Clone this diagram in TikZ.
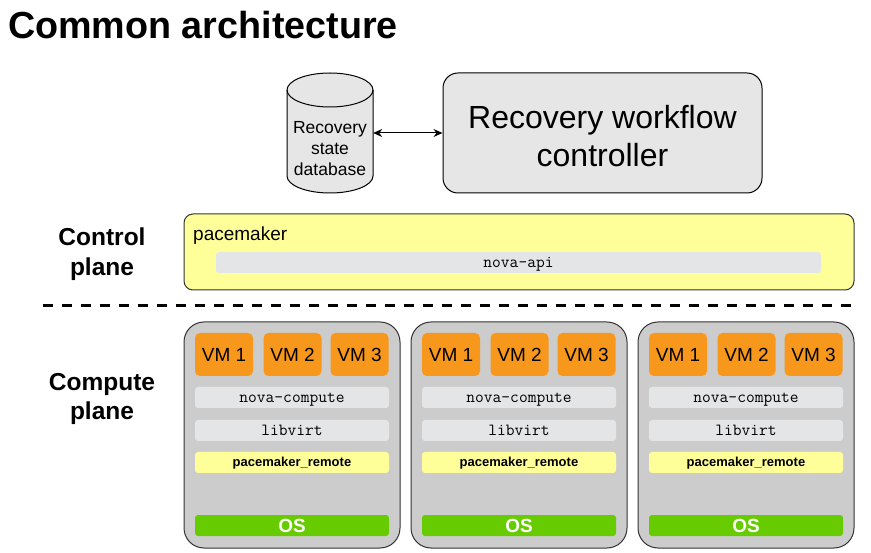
\documentclass[tikz,border=0pt]{standalone}
\usepackage{fontspec}
\setmainfont{Liberation Sans}
\usetikzlibrary{arrows.meta}
\definecolor{cgray}{HTML}{CCCCCC}
\definecolor{lgray}{HTML}{E6E6E6}
\definecolor{bargray}{HTML}{E4E5E6}
\definecolor{pyellow}{HTML}{FFFF99}
\definecolor{vmorange}{HTML}{F7981D}
\definecolor{osgreen}{HTML}{66CC00}
\definecolor{edge}{HTML}{333333}
\tikzset{
  computebox/.style={draw=edge, line width=1pt, fill=cgray, rounded corners=20pt, minimum width=216pt, minimum height=226pt, inner sep=0pt},
  vmbox/.style={fill=vmorange, rounded corners=5pt, minimum width=58pt, minimum height=43pt, inner sep=0pt, font=\fontsize{19}{22}\selectfont},
  barbox/.style={fill=bargray, rounded corners=3pt, minimum width=194pt, minimum height=21pt, inner sep=0pt, text height=10pt, text depth=0.5pt, font=\ttfamily\fontsize{17}{18}\selectfont},
  pmrbox/.style={fill=pyellow, rounded corners=3pt, minimum width=194pt, minimum height=21pt, inner sep=0pt, text height=9.5pt, text depth=1pt, font=\bfseries\fontsize{13}{16}\selectfont},
  osbox/.style={fill=osgreen, rounded corners=3pt, minimum width=194pt, minimum height=21pt, inner sep=0pt, text=white, font=\bfseries\fontsize{19}{22}\selectfont},
  planelabel/.style={align=center, font=\bfseries\fontsize{24.5}{29.5}\selectfont},
}
\begin{document}
\begin{tikzpicture}[x=1pt,y=-1pt]
\useasboundingbox (0,0) rectangle (871,553);
% title
\node[anchor=base west, inner sep=0pt, font=\bfseries\fontsize{37.7}{44}\selectfont] (title) at (8,38.5) {Common architecture};
% database cylinder
\node[minimum width=86pt, minimum height=120pt, inner sep=0pt] (db) at (330,133) {};
\draw[draw=black, line width=1pt, fill=lgray]
  (287,90) -- (287,176) arc[start angle=180, end angle=0, x radius=43, y radius=17] -- (373,90)
  arc[start angle=0, end angle=-180, x radius=43, y radius=17] -- cycle;
\draw[line width=1pt] (287,90) arc[start angle=180, end angle=0, x radius=43, y radius=17];
\node[align=center, font=\fontsize{17.5}{21}\selectfont, inner sep=0pt] (dbtext) at (330,149) {Recovery\\state\\database};
% controller
\node[draw=black, line width=1pt, fill=lgray, rounded corners=15pt, minimum width=319pt, minimum height=120pt, inner sep=0pt] (ctrl) at (602.5,133) {};
\node[align=center, inner sep=0pt, font=\fontsize{32}{38}\selectfont] (ctrltext) at (602.5,136) {Recovery workflow\\controller};
\draw[line width=1pt, {Stealth[length=9pt,width=8pt]}-{Stealth[length=9pt,width=8pt]}] (db.east) -- (ctrl.west);
% control plane
\node[planelabel] (cpl) at (102,254) {Control\\plane};
\node[draw=edge, line width=1pt, fill=pyellow, rounded corners=9pt, minimum width=670pt, minimum height=76pt, inner sep=0pt] (pm) at (519,252) {};
\node[anchor=base west, inner sep=0pt, font=\fontsize{19}{22}\selectfont] (pmtext) at (193,240.5) {pacemaker};
\node[barbox, minimum width=605pt] (napi) at (518.5,262.5) {nova-api};
% divider
\coordinate (dl) at (43,306);
\coordinate (dr) at (853,306);
\draw[line width=3pt, dash pattern=on 9.5pt off 9.5pt] (dl) -- (dr);
% compute plane
\node[planelabel] (cmpl) at (102,399) {Compute\\plane};
\foreach \i/\L in {1/184, 2/411, 3/638} {
  \node[computebox] (c\i) at (\L+108,435) {};
  \node[vmbox] (c\i vm1) at (\L+40,354.5) {VM 1};
  \node[vmbox] (c\i vm2) at (\L+108.5,354.5) {VM 2};
  \node[vmbox] (c\i vm3) at (\L+175.5,354.5) {VM 3};
  \node[barbox] (c\i nc) at (\L+108,397.5) {nova-compute};
  \node[barbox] (c\i lv) at (\L+108,430.5) {libvirt};
  \node[pmrbox] (c\i pr) at (\L+108,462.5) {pacemaker\_remote};
  \node[osbox] (c\i os) at (\L+108,525.5) {OS};
}
\end{tikzpicture}
\end{document}
